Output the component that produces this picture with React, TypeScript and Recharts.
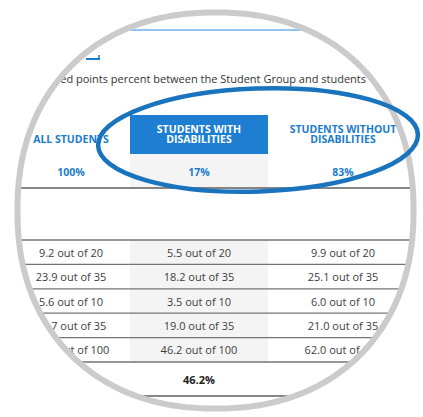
import { ScatterChart, Scatter, XAxis, YAxis, ReferenceArea, ReferenceLine } from "recharts";

// table content
const columnTitles = [["ALL STUDENTS"], ["STUDENTS WITH", "DISABILITIES"], ["STUDENTS WITHOUT", "DISABILITIES"]];
const groupShare = [100, 17, 83];
const maxPoints = [20, 35, 10, 35, 100];
const allStudents = [9.2, 23.9, 5.6, 20.7, 59.4];
const withDisabilities = [5.5, 18.2, 3.5, 19.0, 46.2];
const withoutDisabilities = [9.9, 25.1, 6.0, 21.0, 62.0];
const caption = "earned points percent between the Student Group and students";

const W = 423;
const H = 417;
const FONT = "'Open Sans', 'Noto Sans', sans-serif";
const BLUE = "#1b7bcb";
const HEADER_FILL = "#1e7fd2";
const GRAY_COL = "#f4f4f4";
const RULE = "#747474";
const TEXT = "#3d3d3d";

// table geometry (chart units == px, axes are hidden)
const COL_EDGES = [12, 130, 268, 418];
const HEADER_ROW = [115, 154];
const SHARE_ROW = [154, 188];
const SECTION_ROW = [188, 240];
const BODY_TOP = 240;
const BODY_ROW_H = 24.4;
const bodyEdges = maxPoints.map((_, i) => BODY_TOP + i * BODY_ROW_H).concat(BODY_TOP + maxPoints.length * BODY_ROW_H);
const TOTAL_ROW = [bodyEdges[bodyEdges.length - 1], 396];

const colMid = (i: number) => (COL_EDGES[i] + COL_EDGES[i + 1]) / 2;
const mid = (r: number[]) => (r[0] + r[1]) / 2;

const series = [allStudents, withDisabilities, withoutDisabilities];
const totalMax = maxPoints[maxPoints.length - 1];

const headerData = columnTitles.map((lines, i) => ({ x: colMid(i), y: HEADER_ROW[1] - 15, lines }));
const shareData = groupShare.map((s, i) => ({ x: colMid(i), y: mid(SHARE_ROW) + 1, label: `${s}%` }));
const bodyData = series.flatMap((vals, c) =>
  vals.map((v, r) => ({
    x: colMid(c),
    y: (bodyEdges[r] + bodyEdges[r + 1]) / 2,
    label: `${v.toFixed(1)} out of ${maxPoints[r]}`,
  }))
);
const totalData = series.map((vals, c) => ({
  x: colMid(c),
  y: mid(TOTAL_ROW),
  label: `${((vals[vals.length - 1] / totalMax) * 100).toFixed(1)}%`,
}));
const captionData = [{ x: 366, y: 78, label: caption }];

// magnifier outline (a slightly squarish circle)
const LENS = { cx: 215.5, cy: 210.5, r: 198, n: 2.2 };
function lensPath(r: number) {
  const pts: string[] = [];
  const steps = 360;
  for (let k = 0; k < steps; k++) {
    const t = (k / steps) * Math.PI * 2;
    const c = Math.cos(t);
    const s = Math.sin(t);
    const x = LENS.cx + r * Math.sign(c) * Math.pow(Math.abs(c), 2 / LENS.n);
    const y = LENS.cy + r * Math.sign(s) * Math.pow(Math.abs(s), 2 / LENS.n);
    pts.push(`${x.toFixed(1)},${y.toFixed(1)}`);
  }
  return "M" + pts.join("L") + "Z";
}

const HeaderText = (p: any) => {
  const { cx, cy, payload, index } = p;
  const n = payload.lines.length;
  return (
    <text
      textAnchor="middle"
      dominantBaseline="central"
      fontFamily={FONT}
      fontWeight={700}
      fontSize={10.5}
      fill={index === 1 ? "#ffffff" : BLUE}
    >
      {payload.lines.map((l: string, i: number) => (
        <tspan key={i} x={cx} y={cy - (n - 1 - i) * 10.5}>
          {l}
        </tspan>
      ))}
    </text>
  );
};

const cellText = (size: number, weight: number, color: string, anchor = "middle") => (p: any) => (
  <text
    x={p.cx}
    y={p.cy}
    textAnchor={anchor}
    dominantBaseline="central"
    fontFamily={FONT}
    fontSize={size}
    fontWeight={weight}
    fill={color}
  >
    {p.payload.label}
  </text>
);

export default function App() {
  const rules = [SECTION_ROW[0], ...bodyEdges, TOTAL_ROW[1]];
  return (
    <div style={{ position: "absolute", left: 0, top: 0, width: W, height: H, background: "#fff", overflow: "hidden" }}>
      <div style={{ position: "absolute", left: 0, top: 0, width: W, height: H, clipPath: `path('${lensPath(197)}')` }}>
        <ScatterChart width={W} height={H} margin={{ top: 0, right: 0, bottom: 0, left: 0 }}>
          <XAxis type="number" dataKey="x" domain={[0, W]} allowDataOverflow hide />
          <YAxis type="number" dataKey="y" domain={[0, H]} allowDataOverflow reversed hide />

          <ReferenceArea x1={COL_EDGES[1]} x2={COL_EDGES[2]} y1={SHARE_ROW[0]} y2={SHARE_ROW[1]} fill={GRAY_COL} fillOpacity={1} stroke="none" />
          <ReferenceArea x1={COL_EDGES[1]} x2={COL_EDGES[2]} y1={BODY_TOP} y2={bodyEdges[bodyEdges.length - 1]} fill={GRAY_COL} fillOpacity={1} stroke="none" />
          <ReferenceArea x1={COL_EDGES[1]} x2={COL_EDGES[2]} y1={HEADER_ROW[0]} y2={HEADER_ROW[1]} fill={HEADER_FILL} fillOpacity={1} stroke="none" />

          <ReferenceLine y={30} stroke="#6cb2ea" strokeWidth={1.5} />
          <ReferenceLine segment={[{ x: 86, y: 59 }, { x: 100, y: 59 }]} stroke={BLUE} strokeWidth={2} />
          <ReferenceLine segment={[{ x: 99, y: 59 }, { x: 99, y: 55 }]} stroke={BLUE} strokeWidth={1.5} />
          {rules.map((y, i) => (
            <ReferenceLine key={i} y={y} stroke={i === 0 || i === rules.length - 1 ? "#5e5e5e" : RULE} strokeWidth={1.3} />
          ))}

          <Scatter data={captionData} shape={cellText(11, 400, "#333333", "end")} isAnimationActive={false} />
          <Scatter data={headerData} shape={HeaderText} isAnimationActive={false} />
          <Scatter data={shareData} shape={cellText(10.5, 700, BLUE)} isAnimationActive={false} />
          <Scatter data={bodyData} shape={cellText(11, 400, TEXT)} isAnimationActive={false} />
          <Scatter data={totalData} shape={cellText(11, 700, "#222222")} isAnimationActive={false} />
        </ScatterChart>
      </div>
      <svg width={W} height={H} style={{ position: "absolute", left: 0, top: 0, pointerEvents: "none" }}>
        <path d={lensPath(LENS.r)} fill="none" stroke="#cbcbcb" strokeWidth={6} />
        <ellipse
          cx={258}
          cy={140}
          rx={160}
          ry={51.5}
          transform="rotate(-2 258 140)"
          fill="none"
          stroke="#1a74bd"
          strokeWidth={4.5}
        />
      </svg>
    </div>
  );
}
